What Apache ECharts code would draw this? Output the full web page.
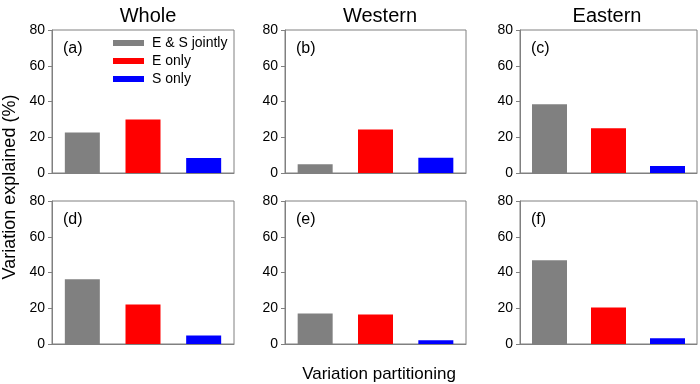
<!DOCTYPE html>
<html><head><meta charset="utf-8">
<script src="https://cdn.jsdelivr.net/npm/echarts@6/dist/echarts.min.js"></script>
<style>html,body{margin:0;padding:0;background:#fff}#c{width:700px;height:384px}</style>
</head><body><div id="c"></div>
<script>
const categories = ['E & S jointly', 'E only', 'S only'];
const panelLabels = ['(a)', '(b)', '(c)', '(d)', '(e)', '(f)'];
const columnTitles = ['Whole', 'Western', 'Eastern'];
const jointly = [22.7, 4.9, 38.5, 36.2, 17.1, 46.8];
const eOnly = [30.0, 24.4, 25.1, 22.1, 16.5, 20.4];
const sOnly = [8.4, 8.6, 3.9, 4.7, 2.1, 3.2];
const yTicks = [0, 20, 40, 60, 80];
const colors = ['#808080', '#FF0000', '#0000FF'];

const FONT = 'Liberation Sans';
const cols = [[52, 234], [285, 466], [520, 697]];
const rows = [[30, 173], [201, 344]];
const titleCenters = [143, 375, 602];

const grids = [], xAxes = [], yAxes = [], series = [], titles = [];
const vals = [jointly, eOnly, sOnly];
for (let i = 0; i < 6; i++) {
  const r = Math.floor(i / 3), c = i % 3;
  grids.push({left: cols[c][0], width: cols[c][1] - cols[c][0], top: rows[r][0], height: rows[r][1] - rows[r][0],
    show: true, borderColor: '#808080', borderWidth: 1, backgroundColor: 'transparent'});
  xAxes.push({type: 'category', gridIndex: i, data: categories,
    axisLine: {show: true, lineStyle: {color: '#808080'}}, axisTick: {show: false}, axisLabel: {show: false}});
  yAxes.push({type: 'value', gridIndex: i, min: yTicks[0], max: yTicks[yTicks.length - 1], interval: 20,
    axisLine: {show: true, lineStyle: {color: '#808080'}},
    axisTick: {show: true, length: 4, inside: false, lineStyle: {color: '#808080'}},
    axisLabel: {fontFamily: FONT, fontSize: 14, color: '#000', margin: 7},
    splitLine: {show: false}});
  for (let s = 0; s < 3; s++) {
    const d = categories.map((_, k) => k === s ? vals[s][i] : '-');
    series.push({type: 'bar', name: categories[s], xAxisIndex: i, yAxisIndex: i, data: d,
      barWidth: 35, barGap: '-100%', itemStyle: {color: colors[s]}, silent: true, animation: false});
  }
  titles.push({text: panelLabels[i], left: cols[c][0] + 6, top: rows[r][0] + 6,
    textStyle: {fontFamily: FONT, fontSize: 16, fontWeight: 'normal', color: '#000'}});
}
for (let c = 0; c < 3; c++) {
  titles.push({text: columnTitles[c], left: titleCenters[c], textAlign: 'center', top: 1,
    textStyle: {fontFamily: FONT, fontSize: 20, fontWeight: 'normal', color: '#000'}});
}
titles.push({text: 'Variation partitioning', left: 374, textAlign: 'center', top: 361,
  textStyle: {fontFamily: FONT, fontSize: 17, fontWeight: 'normal', color: '#000'}});

const chart = echarts.init(document.getElementById('c'), null, {renderer: 'canvas'});
chart.setOption({
  animation: false,
  title: titles,
  grid: grids, xAxis: xAxes, yAxis: yAxes, series: series,
  legend: {data: categories, orient: 'vertical', left: 108, top: 31, itemWidth: 31, itemHeight: 6, itemGap: 4,
    icon: 'rect', selectedMode: false,
    textStyle: {fontFamily: FONT, fontSize: 14, color: '#000', lineHeight: 14, padding: [0, 0, 0, 3]}},
  graphic: [{type: 'text', x: 10, y: 187, rotation: Math.PI / 2,
    style: {text: 'Variation explained (%)', fontFamily: FONT, fontSize: 18, fill: '#000', align: 'center', verticalAlign: 'middle'}}]
});
</script></body></html>
